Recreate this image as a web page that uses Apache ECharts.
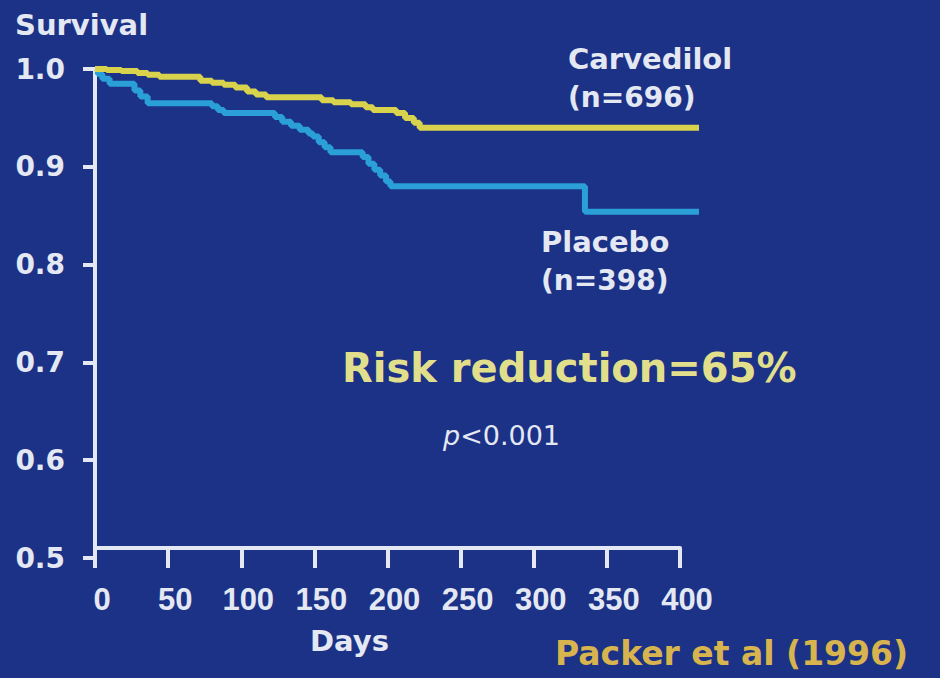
<!DOCTYPE html>
<html>
<head>
<meta charset="utf-8">
<script src="https://cdn.jsdelivr.net/npm/echarts@6/dist/echarts.min.js"></script>
<style>
  html, body { margin: 0; padding: 0; background: #1c3287; }
  #chart { width: 940px; height: 678px; }
</style>
</head>
<body>
<div id="chart"></div>
<script>
// Kaplan-Meier survival, carvedilol vs placebo (days, survival after each step)
const carvedilolDays = [0, 8, 18, 29, 36, 44, 72, 80, 88, 96, 104, 110, 117, 155, 163, 175, 185, 190, 206, 212, 218, 222, 413];
const carvedilolSurvival = [1.0, 0.999, 0.998, 0.996, 0.994, 0.992, 0.988, 0.986, 0.984, 0.981, 0.977, 0.974, 0.971, 0.968, 0.966, 0.964, 0.961, 0.958, 0.955, 0.950, 0.945, 0.940, 0.940];

const placeboDays = [0, 2, 5, 10, 27, 31, 36, 80, 84, 88, 123, 128, 134, 140, 146, 149, 153, 157, 161, 183, 187, 191, 195, 199, 202, 335, 413];
const placeboSurvival = [1.0, 0.995, 0.990, 0.985, 0.978, 0.972, 0.965, 0.962, 0.958, 0.955, 0.951, 0.946, 0.942, 0.938, 0.934, 0.931, 0.925, 0.920, 0.915, 0.910, 0.903, 0.897, 0.891, 0.885, 0.880, 0.854, 0.854];

const xTicks = [0, 50, 100, 150, 200, 250, 300, 350, 400];
const yTicks = [0.5, 0.6, 0.7, 0.8, 0.9, 1.0];
// follow-up runs a little past the last labelled tick
const followUpEnd = 413.7;

const axisWhite = '#e4e8f3';
const pairs = (xs, ys) => xs.map((x, i) => [x, ys[i]]);

// plot area: day 0 at x=95, day 400 at x=680
const plotLeft = 95, plotRight = 680, pxPerDay = (plotRight - plotLeft) / 400;
const curveRight = plotLeft + followUpEnd * pxPerDay;

const chart = echarts.init(document.getElementById('chart'), null, { renderer: 'svg' });

chart.setOption({
  backgroundColor: '#1c3287',
  animation: false,
  grid: [
    { left: plotLeft, right: 940 - plotRight, top: 69, bottom: 120 },
    { left: plotLeft, right: 940 - curveRight, top: 69, bottom: 120 }
  ],
  xAxis: [
    {
      gridIndex: 0,
      type: 'value',
      min: xTicks[0],
      max: xTicks[xTicks.length - 1],
      interval: 50,
      offset: -10,
      axisLine: { show: true, lineStyle: { color: axisWhite, width: 4 } },
      axisTick: { show: true, length: 20, inside: false, lineStyle: { color: axisWhite, width: 4 } },
      splitLine: { show: false },
      axisLabel: {
        color: axisWhite,
        fontFamily: 'Liberation Sans',
        fontWeight: 'bold',
        fontSize: 31,
        margin: 36,
        padding: [0, 0, 0, 14],
        formatter: v => (xTicks.includes(v) ? String(v) : '')
      }
    },
    {
      gridIndex: 1,
      type: 'value',
      min: 0,
      max: followUpEnd,
      show: false
    }
  ],
  yAxis: [
    {
      gridIndex: 0,
      type: 'value',
      min: yTicks[0],
      max: yTicks[yTicks.length - 1],
      interval: 0.1,
      axisLine: { show: true, lineStyle: { color: axisWhite, width: 4 } },
      axisTick: { show: true, length: 12, inside: false, lineStyle: { color: axisWhite, width: 4 } },
      splitLine: { show: false },
      axisLabel: {
        color: axisWhite,
        fontFamily: 'DejaVu Sans',
        fontWeight: 'bold',
        fontSize: 28,
        margin: 30,
        padding: [8, 0, 0, 0],
        formatter: v => v.toFixed(1)
      }
    },
    {
      gridIndex: 1,
      type: 'value',
      min: yTicks[0],
      max: yTicks[yTicks.length - 1],
      show: false
    }
  ],
  series: [
    {
      name: 'Placebo',
      type: 'line',
      xAxisIndex: 1,
      yAxisIndex: 1,
      step: 'end',
      symbol: 'none',
      data: pairs(placeboDays, placeboSurvival),
      lineStyle: { color: '#2a9fd8', width: 6 }
    },
    {
      name: 'Carvedilol',
      type: 'line',
      xAxisIndex: 1,
      yAxisIndex: 1,
      step: 'end',
      symbol: 'none',
      data: pairs(carvedilolDays, carvedilolSurvival),
      lineStyle: { color: '#d8d24c', width: 6 }
    }
  ],
  graphic: [
    { type: 'text', left: 15, top: 10, style: { text: 'Survival', fill: axisWhite, font: 'bold 29px "DejaVu Sans"' } },
    { type: 'text', left: 310, top: 626, style: { text: 'Days', fill: axisWhite, font: 'bold 29px "DejaVu Sans"' } },
    { type: 'text', left: 568, top: 44, style: { text: 'Carvedilol', fill: axisWhite, font: 'bold 29px "DejaVu Sans"' } },
    { type: 'text', left: 568, top: 83, style: { text: '(n=696)', fill: axisWhite, font: 'bold 28px "DejaVu Sans"' } },
    { type: 'text', left: 541, top: 227, style: { text: 'Placebo', fill: axisWhite, font: 'bold 29px "DejaVu Sans"' } },
    { type: 'text', left: 541, top: 266, style: { text: '(n=398)', fill: axisWhite, font: 'bold 28px "DejaVu Sans"' } },
    { type: 'text', left: 342, top: 348, style: { text: 'Risk reduction=65%', fill: '#e2df8c', font: 'bold 40px "DejaVu Sans"' } },
    {
      type: 'text', left: 443, top: 422,
      style: {
        text: '{i|p}<0.001',
        fill: axisWhite,
        font: '27px "DejaVu Sans"',
        rich: { i: { fontStyle: 'italic', fontSize: 27, fontFamily: 'DejaVu Sans', fill: axisWhite } }
      }
    },
    { type: 'text', left: 555, top: 637, style: { text: 'Packer et al (1996)', fill: '#d8b44e', font: 'bold 33px "DejaVu Sans"' } }
  ]
});
</script>
</body>
</html>
